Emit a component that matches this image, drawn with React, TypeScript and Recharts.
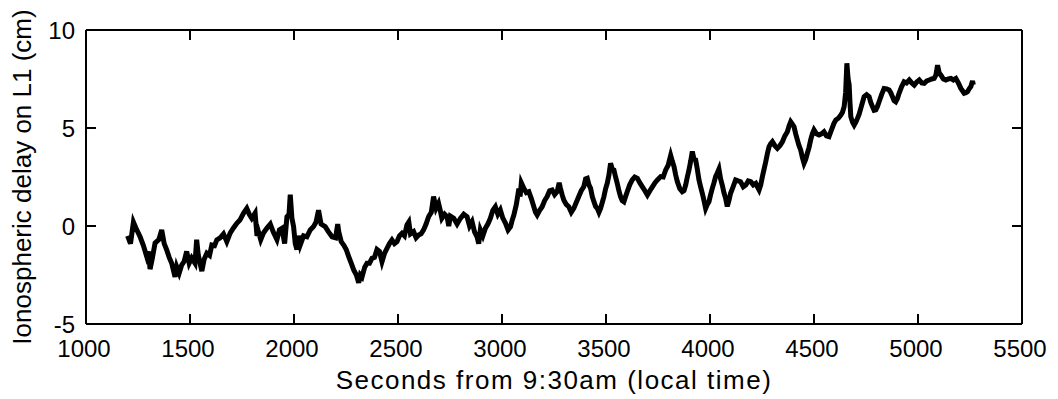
import React from "react";
import { LineChart, Line, XAxis, YAxis } from "recharts";

// time (s after 9:30am) and L1 ionospheric delay (cm)
const seconds = [
  1200, 1214, 1228, 1240, 1260, 1276, 1292, 1300, 1308, 1318, 1332, 1350, 1364, 1376, 1388, 1400,
  1412, 1428, 1436, 1448, 1460, 1472, 1484, 1496, 1508, 1524, 1532, 1540, 1557, 1568, 1581, 1594,
  1605, 1618, 1629, 1645, 1661, 1677, 1693, 1709, 1725, 1740, 1757, 1773, 1785, 1797, 1813, 1822,
  1829, 1840, 1853, 1870, 1886, 1900, 1918, 1930, 1942, 1955, 1966, 1976, 1982, 1990, 1998, 2006,
  2014, 2022, 2030, 2046, 2062, 2078, 2094, 2106, 2118, 2130, 2150, 2166, 2183, 2200, 2210, 2215,
  2227, 2239, 2251, 2263, 2275, 2287, 2300, 2311, 2319, 2327, 2340, 2351, 2363, 2375, 2387, 2399,
  2411, 2423, 2435, 2447, 2459, 2471, 2483, 2495, 2507, 2519, 2531, 2543, 2552, 2560, 2575, 2587,
  2599, 2611, 2623, 2635, 2647, 2660, 2671, 2683, 2695, 2703, 2711, 2724, 2736, 2744, 2752, 2768,
  2784, 2800, 2816, 2832, 2844, 2856, 2868, 2880, 2888, 2896, 2908, 2920, 2932, 2944, 2956, 2968,
  2980, 2992, 3004, 3017, 3029, 3041, 3049, 3057, 3069, 3081, 3087, 3093, 3105, 3117, 3129, 3141,
  3153, 3161, 3169, 3181, 3193, 3205, 3217, 3229, 3241, 3253, 3265, 3275, 3281, 3289, 3297, 3309,
  3321, 3333, 3345, 3357, 3369, 3381, 3393, 3402, 3410, 3418, 3426, 3434, 3442, 3450, 3458, 3466,
  3474, 3482, 3490, 3498, 3506, 3514, 3522, 3530, 3538, 3546, 3554, 3562, 3570, 3578, 3586, 3594,
  3602, 3614, 3626, 3638, 3651, 3663, 3675, 3687, 3699, 3711, 3723, 3735, 3747, 3763, 3775, 3787,
  3799, 3811, 3819, 3827, 3835, 3843, 3855, 3867, 3875, 3883, 3891, 3899, 3907, 3915, 3923, 3931,
  3939, 3947, 3955, 3963, 3971, 3979, 3987, 3995, 4003, 4011, 4019, 4027, 4035, 4043, 4051, 4059,
  4067, 4075, 4083, 4091, 4099, 4111, 4123, 4135, 4147, 4160, 4172, 4184, 4196, 4208, 4220, 4228,
  4236, 4244, 4252, 4260, 4268, 4276, 4284, 4292, 4300, 4312, 4324, 4336, 4348, 4360, 4372, 4380,
  4388, 4396, 4404, 4412, 4420, 4428, 4436, 4444, 4452, 4460, 4468, 4476, 4484, 4492, 4500, 4512,
  4524, 4536, 4548, 4560, 4572, 4584, 4596, 4605, 4617, 4629, 4637, 4645, 4652, 4658, 4664, 4669,
  4673, 4677, 4685, 4693, 4701, 4709, 4717, 4725, 4733, 4741, 4753, 4765, 4773, 4781, 4789, 4797,
  4805, 4813, 4825, 4837, 4849, 4861, 4869, 4877, 4885, 4893, 4901, 4909, 4921, 4933, 4945, 4958,
  4970, 4982, 4994, 5006, 5018, 5030, 5042, 5054, 5066, 5078, 5086, 5094, 5102, 5110, 5122, 5134,
  5146, 5158, 5170, 5182, 5194, 5206, 5214, 5222, 5230, 5238, 5246, 5254, 5262, 5266,
];
const delay = [
  -0.5, -0.9, 0.2, -0.1, -0.55, -1.0, -1.56, -1.3, -2.2, -1.7, -0.87, -0.7, -0.2, -0.9, -1.22, -1.6,
  -1.9, -2.6, -2.07, -2.4, -1.99, -1.8, -1.3, -1.9, -1.63, -1.9, -0.7, -1.5, -2.3, -1.7, -1.39, -1.5,
  -0.97, -1.0, -0.71, -0.6, -0.4, -0.8, -0.36, -0.1, 0.14, 0.3, 0.65, 0.9, 0.6, 0.39, 0.66, -0.5,
  -0.29, -0.7, -0.36, -0.1, 0.1, -0.3, -0.7, -0.2, -0.12, -0.9, 0.47, 0.6, 1.6, 0.4, -0.03, -0.9,
  -1.2, -0.5, -0.97, -0.5, -0.55, -0.2, -0.03, 0.2, 0.8, 0.1, -0.03, -0.3, -0.55, -0.6, 0.1, -0.29,
  -0.8, -0.97, -1.2, -1.56, -1.9, -2.24, -2.5, -2.9, -2.5, -2.6, -2.1, -1.9, -1.9, -1.65, -1.6, -1.2,
  -1.3, -1.82, -1.4, -1.14, -0.9, -0.71, -0.9, -0.8, -0.5, -0.37, -0.5, 0.05, 0.2, -0.4, -0.29, -0.6,
  -0.46, -0.4, -0.2, 0.1, 0.47, 0.7, 1.5, 0.9, 1.16, 0.8, 0.39, 0.6, 0.47, 0.0, 0.5, 0.39,
  0.1, 0.39, 0.6, 0.47, 0.0, 0.22, -0.3, -0.55, -0.9, -0.2, -0.5, -0.12, 0.1, 0.39, 0.8, 0.98,
  0.6, 0.82, 0.4, 0.14, -0.2, -0.03, 0.3, 0.56, 1.1, 1.9, 1.5, 2.2, 1.92, 1.7, 1.75, 1.4,
  0.98, 0.7, 0.56, 0.8, 0.98, 1.3, 1.5, 1.8, 1.84, 1.6, 1.75, 2.2, 1.92, 1.6, 1.33, 1.1,
  0.98, 0.7, 0.9, 1.2, 1.5, 1.8, 2.0, 2.4, 2.43, 2.1, 1.92, 1.5, 1.24, 1.0, 0.9, 0.7,
  0.9, 1.2, 1.5, 1.9, 2.18, 2.6, 3.2, 2.9, 2.86, 2.5, 2.18, 1.8, 1.5, 1.3, 1.24, 1.5,
  1.75, 2.1, 2.35, 2.5, 2.43, 2.2, 2.0, 1.8, 1.58, 1.8, 2.0, 2.2, 2.35, 2.52, 2.5, 2.86,
  3.1, 3.6, 3.3, 3.03, 2.6, 2.26, 1.9, 1.75, 1.8, 2.09, 2.5, 2.86, 3.3, 3.8, 3.4, 3.37,
  2.9, 2.35, 2.0, 1.67, 1.3, 0.9, 1.1, 1.24, 1.6, 1.92, 2.2, 2.52, 2.7, 2.9, 2.4, 2.09,
  1.7, 1.41, 1.0, 1.3, 1.67, 2.0, 2.35, 2.3, 2.26, 2.0, 2.09, 2.3, 2.26, 2.1, 2.18, 2.0,
  1.84, 2.1, 2.52, 2.9, 3.28, 3.7, 4.05, 4.2, 4.3, 4.1, 3.96, 4.1, 4.3, 4.6, 4.81, 5.1,
  5.32, 5.2, 5.07, 4.7, 4.39, 4.1, 3.88, 3.5, 3.2, 3.4, 3.71, 4.0, 4.39, 4.7, 4.9, 4.7,
  4.64, 4.7, 4.81, 4.6, 4.56, 4.9, 5.24, 5.41, 5.5, 5.66, 5.8, 6.09, 6.8, 8.3, 7.5, 7.2,
  6.3, 5.58, 5.3, 5.15, 5.3, 5.49, 5.7, 6.0, 6.3, 6.6, 6.7, 6.6, 6.3, 6.09, 5.9, 5.92,
  6.1, 6.34, 6.7, 7.02, 7.0, 6.94, 6.8, 6.6, 6.4, 6.34, 6.5, 6.77, 7.1, 7.36, 7.3, 7.45,
  7.3, 7.19, 7.35, 7.45, 7.3, 7.28, 7.4, 7.45, 7.5, 7.53, 7.7, 8.2, 7.8, 7.7, 7.5, 7.45,
  7.5, 7.53, 7.45, 7.53, 7.3, 7.02, 6.9, 6.77, 6.8, 6.85, 7.0, 7.11, 7.4, 7.2,
];

const xTicks = [1000, 1500, 2000, 2500, 3000, 3500, 4000, 4500, 5000, 5500];
const yTicks = [-5, 0, 5, 10];

const data = seconds.map((t, i) => ({ t, d: delay[i] }));

const FONT = '"Liberation Sans", Arial, Helvetica, sans-serif';
const TICK = 10;
const axisLine = { stroke: "#000", strokeWidth: 2 };

// matlab-style ticks point into the box
const BottomTick = (props: any) => {
  const { x, y, payload } = props;
  return (
    <g>
      <line x1={x} y1={y} x2={x} y2={y - TICK} stroke="#000" strokeWidth={2} />
      <text x={x - 2} y={y + 33} textAnchor="middle" fontSize={24} fontFamily={FONT} fill="#000">
        {payload.value}
      </text>
    </g>
  );
};

const LeftTick = (props: any) => {
  const { x, y, payload } = props;
  return (
    <g>
      <line x1={x} y1={y} x2={x + TICK} y2={y} stroke="#000" strokeWidth={2} />
      <text x={x - 11} y={y} dy="0.36em" textAnchor="end" fontSize={24} fontFamily={FONT} fill="#000">
        {payload.value}
      </text>
    </g>
  );
};

const TopTick = (props: any) => {
  const { x, y } = props;
  return <line x1={x} y1={y} x2={x} y2={y + TICK} stroke="#000" strokeWidth={2} />;
};

const RightTick = (props: any) => {
  const { x, y } = props;
  return <line x1={x} y1={y} x2={x - TICK} y2={y} stroke="#000" strokeWidth={2} />;
};

const XTitle = (props: any) => {
  const vb = props.viewBox;
  return (
    <text
      x={vb.x + vb.width / 2}
      y={vb.y + 65}
      textAnchor="middle"
      fontSize={26}
      letterSpacing={1.5}
      fontFamily={FONT}
      fill="#000"
    >
      Seconds from 9:30am (local time)
    </text>
  );
};

const YTitle = (props: any) => {
  const vb = props.viewBox;
  const cx = vb.x + 31;
  const cy = vb.y + vb.height / 2;
  return (
    <text
      x={cx}
      y={cy}
      transform={`rotate(-90, ${cx}, ${cy})`}
      textAnchor="middle"
      fontSize={26}
      fontFamily={FONT}
      fill="#000"
    >
      Ionospheric delay on L1 (cm)
    </text>
  );
};

export default function App() {
  return (
    <div style={{ position: "absolute", left: 0, top: 0, background: "#fff" }}>
      <LineChart width={1058} height={399} data={data} margin={{ top: 0, right: 0, bottom: 0, left: 0 }}>
        <XAxis
          dataKey="t"
          type="number"
          domain={[1000, 5500]}
          ticks={xTicks}
          allowDataOverflow
          height={75}
          axisLine={axisLine}
          tickLine={false}
          tickSize={0}
          tickMargin={0}
          tick={<BottomTick />}
          interval={0}
          label={{ content: <XTitle /> }}
        />
        <XAxis
          xAxisId="top"
          orientation="top"
          dataKey="t"
          type="number"
          domain={[1000, 5500]}
          ticks={xTicks}
          allowDataOverflow
          height={30}
          axisLine={axisLine}
          tickLine={false}
          tickSize={0}
          tickMargin={0}
          tick={<TopTick />}
          interval={0}
        />
        <YAxis
          type="number"
          domain={[-5, 10]}
          ticks={yTicks}
          allowDataOverflow
          width={86}
          axisLine={axisLine}
          tickLine={false}
          tickSize={0}
          tickMargin={0}
          tick={<LeftTick />}
          interval={0}
          label={{ content: <YTitle /> }}
        />
        <YAxis
          yAxisId="right"
          orientation="right"
          type="number"
          domain={[-5, 10]}
          ticks={yTicks}
          allowDataOverflow
          width={36}
          axisLine={axisLine}
          tickLine={false}
          tickSize={0}
          tickMargin={0}
          tick={<RightTick />}
          interval={0}
        />
        <Line
          type="linear"
          dataKey="d"
          stroke="#000"
          strokeWidth={5}
          strokeLinejoin="miter"
          dot={false}
          isAnimationActive={false}
        />
      </LineChart>
    </div>
  );
}
